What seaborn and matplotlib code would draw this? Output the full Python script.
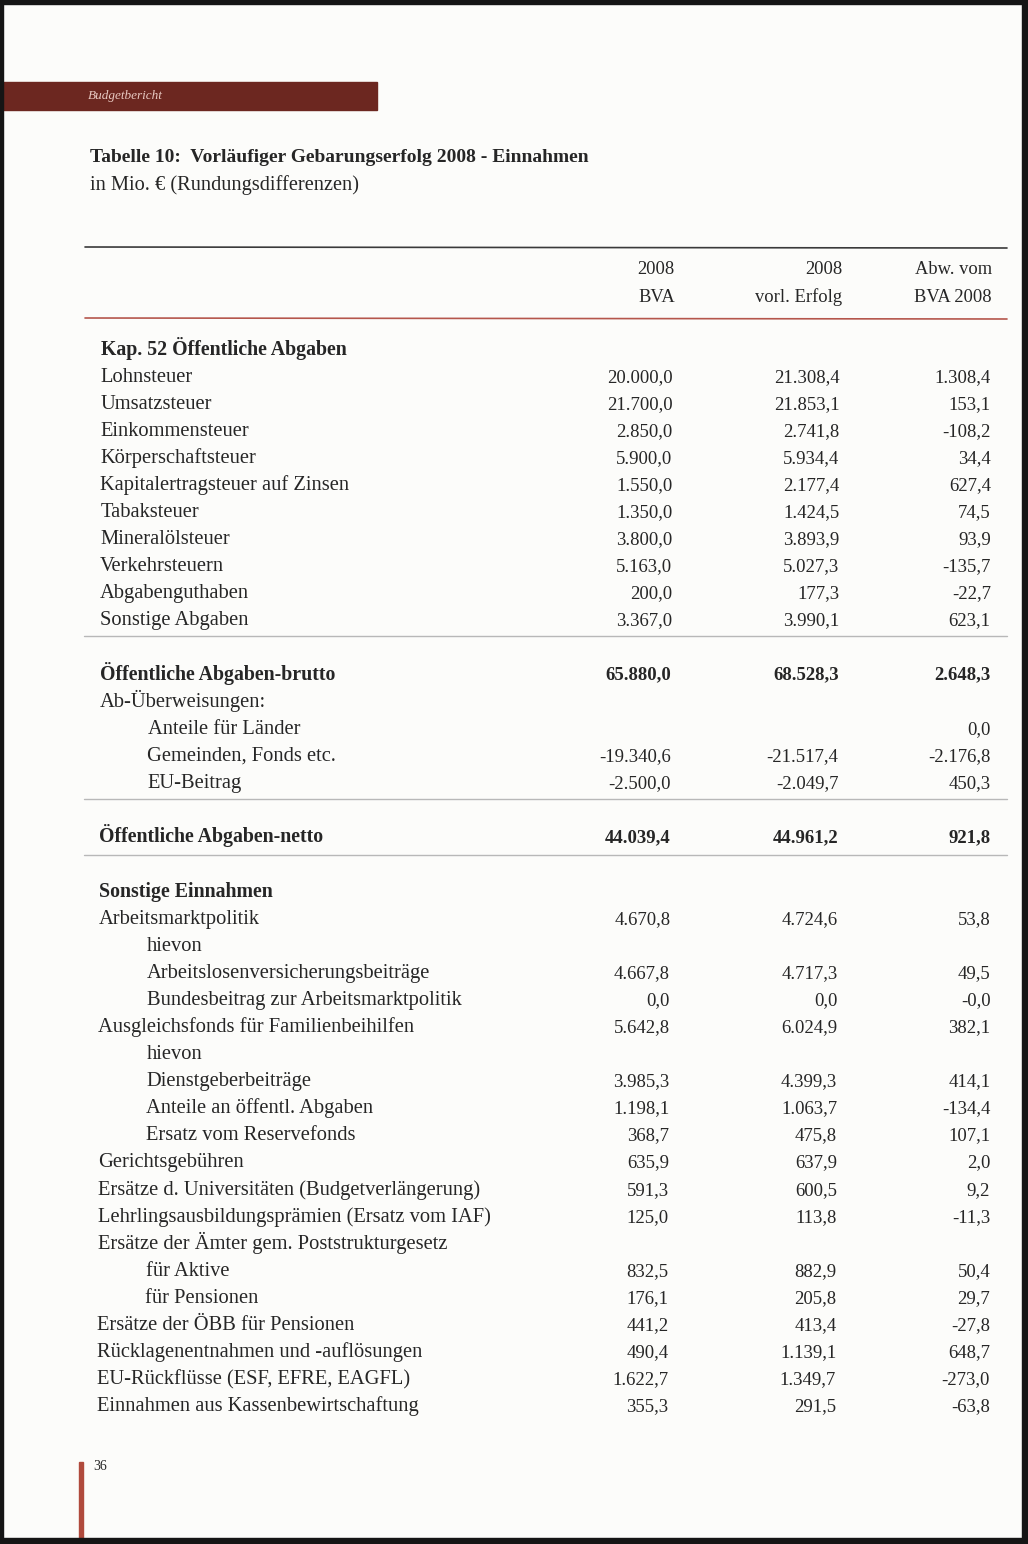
import matplotlib
matplotlib.use("Agg")
import matplotlib.pyplot as plt
import seaborn as sns
import pandas as pd

# ---------------- data ----------------
title = "Tabelle 10:  Vorläufiger Gebarungserfolg 2008 - Einnahmen"
subtitle = "in Mio. € (Rundungsdifferenzen)"
header_band = "Budgetbericht"
page_number = "36"
col_headers_top = ["2008", "2008", "Abw. vom"]
col_headers_bottom = ["BVA", "vorl. Erfolg", "BVA 2008"]

row_pos = [0, 1, 2, 3, 4, 5, 6, 7, 8, 9, 10,
           12, 13, 14, 15, 16,
           18,
           20, 21, 22, 23, 24, 25, 26, 27, 28, 29, 30, 31, 32, 33, 34, 35, 36, 37, 38, 39]
labels = ["Kap. 52 Öffentliche Abgaben", "Lohnsteuer", "Umsatzsteuer", "Einkommensteuer",
          "Körperschaftsteuer", "Kapitalertragsteuer auf Zinsen", "Tabaksteuer",
          "Mineralölsteuer", "Verkehrsteuern", "Abgabenguthaben", "Sonstige Abgaben",
          "Öffentliche Abgaben-brutto", "Ab-Überweisungen:", "Anteile für Länder",
          "Gemeinden, Fonds etc.", "EU-Beitrag",
          "Öffentliche Abgaben-netto",
          "Sonstige Einnahmen", "Arbeitsmarktpolitik", "hievon",
          "Arbeitslosenversicherungsbeiträge", "Bundesbeitrag zur Arbeitsmarktpolitik",
          "Ausgleichsfonds für Familienbeihilfen", "hievon", "Dienstgeberbeiträge",
          "Anteile an öffentl. Abgaben", "Ersatz vom Reservefonds", "Gerichtsgebühren",
          "Ersätze d. Universitäten (Budgetverlängerung)",
          "Lehrlingsausbildungsprämien (Ersatz vom IAF)",
          "Ersätze der Ämter gem. Poststrukturgesetz", "für Aktive", "für Pensionen",
          "Ersätze der ÖBB für Pensionen", "Rücklagenentnahmen und -auflösungen",
          "EU-Rückflüsse (ESF, EFRE, EAGFL)", "Einnahmen aus Kassenbewirtschaftung"]
indent = [0, 0, 0, 0, 0, 0, 0, 0, 0, 0, 0,
          0, 0, 1, 1, 1,
          0,
          0, 0, 1, 1, 1, 0, 1, 1, 1, 1, 0, 0, 0, 0, 1, 1, 0, 0, 0, 0]
bold = [1, 0, 0, 0, 0, 0, 0, 0, 0, 0, 0,
        1, 0, 0, 0, 0,
        1,
        1, 0, 0, 0, 0, 0, 0, 0, 0, 0, 0, 0, 0, 0, 0, 0, 0, 0, 0, 0]
bva = [None, 20000.0, 21700.0, 2850.0, 5900.0, 1550.0, 1350.0, 3800.0, 5163.0, 200.0, 3367.0,
       65880.0, None, None, -19340.6, -2500.0,
       44039.4,
       None, 4670.8, None, 4667.8, 0.0, 5642.8, None, 3985.3, 1198.1, 368.7, 635.9,
       591.3, 125.0, None, 832.5, 176.1, 441.2, 490.4, 1622.7, 355.3]
erfolg = [None, 21308.4, 21853.1, 2741.8, 5934.4, 2177.4, 1424.5, 3893.9, 5027.3, 177.3, 3990.1,
          68528.3, None, None, -21517.4, -2049.7,
          44961.2,
          None, 4724.6, None, 4717.3, 0.0, 6024.9, None, 4399.3, 1063.7, 475.8, 637.9,
          600.5, 113.8, None, 882.9, 205.8, 413.4, 1139.1, 1349.7, 291.5]
abw = [None, 1308.4, 153.1, -108.2, 34.4, 627.4, 74.5, 93.9, -135.7, -22.7, 623.1,
       2648.3, None, 0.0, -2176.8, 450.3,
       921.8,
       None, 53.8, None, 49.5, -0.0, 382.1, None, 414.1, -134.4, 107.1, 2.0,
       9.2, -11.3, None, 50.4, 29.7, -27.8, 648.7, -273.0, -63.8]
separators_after = [10, 16, 18]  # rows after which a thin rule is drawn

df = pd.DataFrame({"pos": row_pos, "label": labels, "indent": indent, "bold": bold,
                   "bva": bva, "erfolg": erfolg, "abw": abw})


def de(v):
    if v is None or (isinstance(v, float) and pd.isna(v)):
        return ""
    s = f"{v:,.1f}"
    return s.replace(",", "X").replace(".", ",").replace("X", ".")


# ---------------- style ----------------
sns.set_theme(style="white")
plt.rcParams["font.family"] = ["Liberation Serif", "DejaVu Serif"]
TXT = "#262626"
BG = "#fcfcfa"

fig = plt.figure(figsize=(10.28, 15.44), dpi=100, facecolor=BG)
ax = fig.add_axes([0, 0, 1, 1], facecolor=BG)
ax.set_xlim(0, 1028)
ax.set_ylim(1544, 0)
ax.axis("off")
sns.despine(ax=ax, left=True, bottom=True)

# page scan frame
frame_kw = dict(color="#151515", zorder=5)
ax.add_patch(plt.Rectangle((0, 0), 1028, 4, **frame_kw))
ax.add_patch(plt.Rectangle((0, 0), 3, 1544, **frame_kw))
ax.add_patch(plt.Rectangle((1022, 0), 6, 1544, **frame_kw))
ax.add_patch(plt.Rectangle((0, 1538), 1028, 6, **frame_kw))

# header band
ax.add_patch(plt.Rectangle((3, 82), 374, 28, color="#6c2720", zorder=2))
ax.text(88, 96, header_band, color="#e8c9c2", fontsize=9.5, style="italic",
        va="center", ha="left", zorder=3)

# title
ax.text(90, 158, title, color=TXT, fontsize=14, fontweight="bold", va="center", ha="left")
ax.text(90, 185, subtitle, color=TXT, fontsize=14.7, va="center", ha="left")

# header rules
ax.plot([85, 1007], [247, 248], color="#3a3a3a", lw=1.2)
ax.plot([85, 1007], [318, 319], color="#b5564c", lw=1.2)

col_x = [675, 842, 992]
for cx, t, b in zip(col_x, col_headers_top, col_headers_bottom):
    ax.text(cx, 274, t, color=TXT, fontsize=13.3, ha="right", va="baseline")
    ax.text(cx, 302, b, color=TXT, fontsize=13.3, ha="right", va="baseline")

# body
Y0, STEP = 348, 27.1
Y_END = Y0 + 39 * STEP


def skew(y, top, bottom):
    return top + (bottom - top) * (y - Y0) / (Y_END - Y0)


for _, r in df.iterrows():
    y = Y0 + r["pos"] * STEP
    base = y + 6.5
    lx = skew(y, 101, 97) + (48 if r["indent"] else 0)
    fw = "bold" if r["bold"] else "normal"
    lfs = 14.3 if r["bold"] else 14.8
    ax.text(lx, base, r["label"], color=TXT, fontsize=lfs, fontweight=fw,
            ha="left", va="baseline")
    vals = [r["bva"], r["erfolg"], r["abw"]]
    rights = [skew(y, 673, 668), skew(y, 840, 836), skew(y, 991, 990)]
    for v, rx in zip(vals, rights):
        s = de(v)
        if s:
            ax.text(rx, base, s, color=TXT, fontsize=13.5, fontweight=fw,
                    ha="right", va="baseline")

for p in separators_after:
    y = Y0 + (p + 1) * STEP - 10 + (2 if p == 18 else 0)
    ax.plot([84, 1007], [y, y], color="#b8b8b8", lw=1.0)

# footer
ax.add_patch(plt.Rectangle((79, 1462), 4, 76, color="#b04a3c", zorder=2))
ax.text(93, 1467, page_number, color=TXT, fontsize=10, ha="left", va="center")

fig.savefig("out.png", dpi=100, facecolor=BG)
